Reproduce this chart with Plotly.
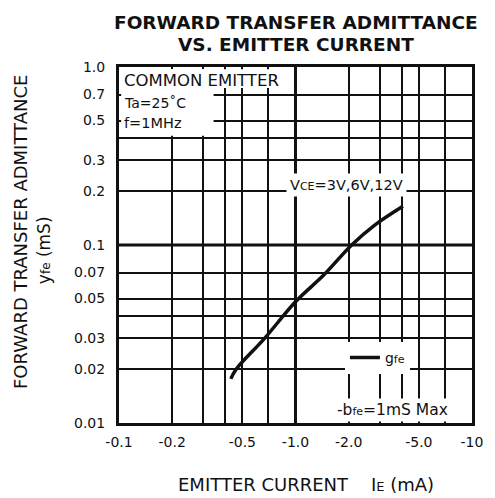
import plotly.graph_objects as go

# ---- data ----
ie_ma = [0.43, 0.46, 0.67, 1.0, 1.45, 2.08, 2.8, 4.06]          # |IE| (mA)
gfe_ms = [0.0177, 0.02, 0.03, 0.048, 0.068, 0.1, 0.129, 0.165]   # gfe (mS)

x_grid = [0.1, 0.2, 0.3, 0.4, 0.5, 0.7, 1, 2, 3, 4, 5, 7, 10]
x_text = ["-0.1", "-0.2", "", "", "-0.5", "", "-1.0", "-2.0", "", "", "-5.0", "", "-10"]
y_grid = [0.01, 0.02, 0.03, 0.04, 0.05, 0.07, 0.1, 0.2, 0.3, 0.4, 0.5, 0.7, 1.0]
y_text = ["0.01", "0.02", "0.03", "", "0.05", "0.07", "0.1", "0.2", "0.3", "", "0.5", "0.7", "1.0"]
x_decades = [1.0]
y_decades = [0.1]

FONT = "DejaVu Sans"
INK = "#111111"

fig = go.Figure()
fig.add_trace(go.Scatter(
    x=ie_ma, y=gfe_ms, mode="lines",
    line=dict(color=INK, width=3.5, shape="spline"),
    name="g<span style='font-size:11px'>fe</span>",
    showlegend=True,
))

shapes = []
for xv in x_decades:
    shapes.append(dict(type="line", xref="x", yref="paper", x0=xv, x1=xv, y0=0, y1=1,
                       line=dict(color=INK, width=3), layer="above"))
for yv in y_decades:
    shapes.append(dict(type="line", yref="y", xref="paper", y0=yv, y1=yv, x0=0, x1=1,
                       line=dict(color=INK, width=3), layer="above"))
# white boxes for condition text block
shapes.append(dict(type="rect", xref="paper", yref="paper", x0=0.006, x1=0.49, y0=0.941, y1=0.994,
                   fillcolor="white", line=dict(width=0), layer="above"))
shapes.append(dict(type="rect", xref="paper", yref="paper", x0=0.006, x1=0.268, y0=0.807, y1=0.994,
                   fillcolor="white", line=dict(width=0), layer="above"))


def ann(text, x, y, size, xanchor="center", angle=0, bg=None, pad=1):
    d = dict(text=text, x=x, y=y, xref="paper", yref="paper", xanchor=xanchor, yanchor="middle",
             textangle=angle, showarrow=False, borderpad=pad,
             font=dict(family=FONT, size=size, color=INK))
    if bg:
        d["bgcolor"] = bg
    return d


annotations = [
    ann("<b>FORWARD TRANSFER ADMITTANCE</b>", 0.5, 1.126, 18.5),
    ann("<b>VS. EMITTER CURRENT</b>", 0.5, 1.062, 18.5),
    ann("FORWARD TRANSFER ADMITTANCE", -0.277, 0.537, 18),
    ann("y<span style='font-size:12px'>fe</span> (mS)", -0.212, 0.486, 17),
    ann("EMITTER CURRENT    I<span style='font-size:13px'>E</span> (mA)", 0.53, -0.174, 18),
    ann("COMMON EMITTER", 0.008, 0.963, 16.5, xanchor="left"),
    ann("Ta=25˚C", 0.008, 0.899, 14, xanchor="left"),
    ann("f=1MHz", 0.008, 0.843, 14.5, xanchor="left"),
    ann("V<span style='font-size:11px'>CE</span>=3V,6V,12V", 0.645, 0.669, 14.5, bg="white", pad=3),
    ann("-b<span style='font-size:11px'>fe</span>=1mS Max", 0.774, 0.037, 15.5, bg="white", pad=2),
]
annotations[2]["textangle"] = -90
annotations[3]["textangle"] = -90

fig.update_layout(
    width=495, height=498,
    margin=dict(l=119, r=18, t=67, b=75),
    paper_bgcolor="white", plot_bgcolor="white",
    font=dict(family=FONT, size=14, color=INK),
    shapes=shapes,
    annotations=annotations,
    legend=dict(x=0.64, y=0.183, xanchor="left", yanchor="middle", bgcolor="white",
                font=dict(family=FONT, size=14, color=INK), borderwidth=0,
                itemwidth=30, tracegroupgap=0),
    xaxis=dict(type="log", range=[-1, 1], tickmode="array", tickvals=x_grid, ticktext=x_text,
               showgrid=True, gridcolor=INK, gridwidth=1.5, ticks="", showline=True,
               linecolor=INK, linewidth=3, mirror=True, ticklabelstandoff=4,
               tickfont=dict(family=FONT, size=14, color=INK)),
    yaxis=dict(type="log", range=[-2, 0], tickmode="array", tickvals=y_grid, ticktext=y_text,
               showgrid=True, gridcolor=INK, gridwidth=1.5, ticks="", showline=True,
               linecolor=INK, linewidth=3, mirror=True, ticklabelstandoff=8,
               tickfont=dict(family=FONT, size=14, color=INK)),
)

fig.write_html("out.html", config={"displayModeBar": False},
               post_script="document.body.style.margin='0';document.body.style.overflow='hidden';")
